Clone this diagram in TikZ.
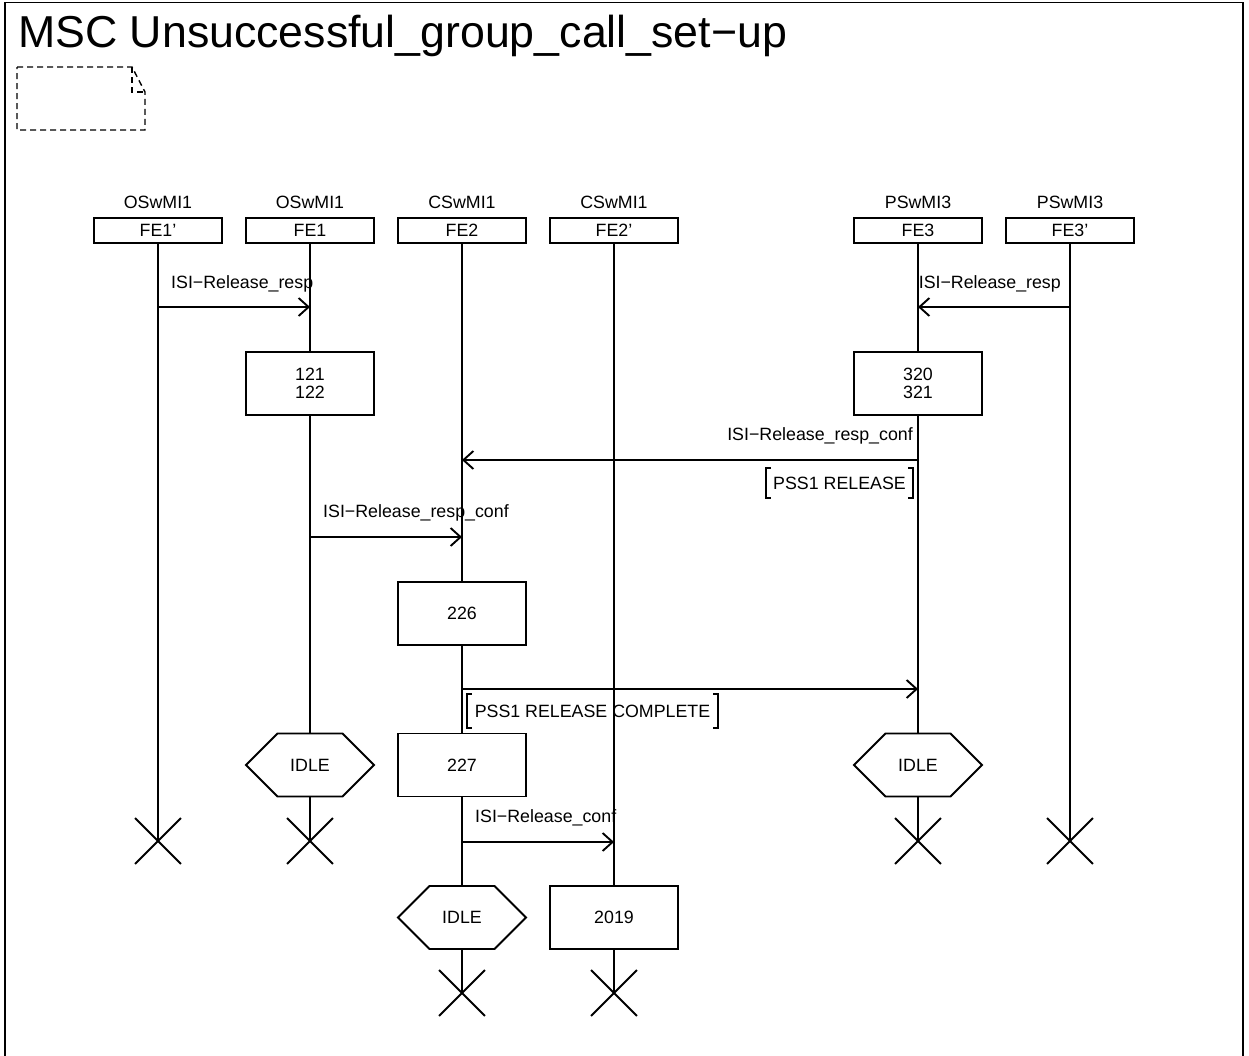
\documentclass[tikz,border=0pt]{standalone}
\usepackage{fontspec}
\setmainfont{Liberation Sans}
\usetikzlibrary{arrows.meta,shapes.misc,shapes.symbols,backgrounds}
\begin{document}
\begin{tikzpicture}[x=1pt,y=-1pt,
  every node/.style={font=\fontsize{17.8}{18}\selectfont},
  lw/.style={line width=1.9pt},
  hdr/.style={draw, lw, fill=white, minimum width=128pt, minimum height=25pt, inner sep=0pt},
  inst/.style={inner sep=0pt, anchor=base},
  actbox/.style={draw, lw, fill=white, minimum width=128pt, minimum height=63pt, inner sep=0pt, align=center},
  statebox/.style={draw, lw, fill=white, signal, signal to=west and east, signal pointer angle=90, minimum width=128pt, minimum height=63pt, inner sep=0pt},
  stopx/.style={cross out, draw, lw, minimum size=44pt, inner sep=0pt},
  msg/.style={lw, -{Straight Barb[length=10pt,width=18pt]}},
  mlbl/.style={inner sep=0pt},
  brk/.style={inner ysep=0pt}
]
\useasboundingbox (0,0) rectangle (1249,1055);
% frame
\draw[line width=1.6pt] (5,1070) -- (5,2.5) -- (1243,2.5) -- (1243,1070);
\node[inner sep=0pt, anchor=base west, font=\fontsize{44.7}{48}\selectfont] (title) at (18,47) {MSC Unsuccessful\_group\_call\_set−up};
% dashed note
\draw[line width=1.4pt, dash pattern=on 6pt off 4pt] (17,67) -- (132,67) -- (145,92) -- (145,130) -- (17,130) -- cycle;
\draw[line width=1.4pt, dash pattern=on 6pt off 4pt] (132,67) -- (132,92) -- (145,92);

% instance heads
\node[inst] (n1) at (158,208) {OSwMI1};
\node[inst] (n2) at (310,208) {OSwMI1};
\node[inst] (n3) at (462,208) {CSwMI1};
\node[inst] (n4) at (614,208) {CSwMI1};
\node[inst] (n5) at (918,208) {PSwMI3};
\node[inst] (n6) at (1070,208) {PSwMI3};
\node[hdr] (h1) at (158,230.5) {FE1'};
\node[hdr] (h2) at (310,230.5) {FE1};
\node[hdr] (h3) at (462,230.5) {FE2};
\node[hdr] (h4) at (614,230.5) {FE2'};
\node[hdr] (h5) at (918,230.5) {FE3};
\node[hdr] (h6) at (1070,230.5) {FE3'};

% actions and states
\node[actbox] (b121) at (310,383.5) {121\\122};
\node[actbox] (b320) at (918,383.5) {320\\321};
\node[actbox] (b226) at (462,613.5) {226};
\node[statebox] (s1) at (310,765) {IDLE};
\node[actbox] (b227) at (462,765) {227};
\node[statebox] (s3) at (918,765) {IDLE};
\node[statebox] (s2) at (462,917.5) {IDLE};
\node[actbox] (b2019) at (614,917.5) {2019};

% stops
\node[stopx] (x1) at (158,841) {};
\node[stopx] (x2) at (310,841) {};
\node[stopx] (x5) at (918,841) {};
\node[stopx] (x6) at (1070,841) {};
\node[stopx] (x3) at (462,993) {};
\node[stopx] (x4) at (614,993) {};

% lifelines
\begin{scope}[on background layer]
\draw[lw] (h1.south) -- (x1.center);
\draw[lw] (h2.south) -- (x2.center);
\draw[lw] (h3.south) -- (x3.center);
\draw[lw] (h4.south) -- (x4.center);
\draw[lw] (h5.south) -- (x5.center);
\draw[lw] (h6.south) -- (x6.center);
\end{scope}

% message points
\coordinate (m1a) at (158,307);
\coordinate (m1b) at (310,307);
\coordinate (m2a) at (1070,307);
\coordinate (m2b) at (918,307);
\coordinate (m3a) at (918,460);
\coordinate (m3b) at (462,460);
\coordinate (m4a) at (310,537);
\coordinate (m4b) at (462,537);
\coordinate (m5a) at (462,689);
\coordinate (m5b) at (918,689);
\coordinate (m6a) at (462,842);
\coordinate (m6b) at (614,842);

\draw[msg] (m1a) -- (m1b);
\draw[msg] (m2a) -- (m2b);
\draw[msg] (m3a) -- (m3b);
\draw[msg] (m4a) -- (m4b);
\draw[msg] (m5a) -- (m5b);
\draw[msg] (m6a) -- (m6b);

\node[mlbl, anchor=base west] (l1) at (171,288) {ISI−Release\_resp};
\node[mlbl, anchor=base east] (l2) at (1061,288) {ISI−Release\_resp};
\node[mlbl, anchor=base east] (l3) at (913,440) {ISI−Release\_resp\_conf};
\node[mlbl, anchor=base west] (l4) at (323,517) {ISI−Release\_resp\_conf};
\node[mlbl, anchor=base west] (l6) at (475,822) {ISI−Release\_conf};

% bracketed parameters
\node[brk, inner xsep=7pt, minimum height=30pt] (p1) at (839.5,483) {PSS1 RELEASE};
\draw[lw] ([xshift=5pt]p1.north west) -- (p1.north west) -- (p1.south west) -- ([xshift=5pt]p1.south west);
\draw[lw] ([xshift=-5pt]p1.north east) -- (p1.north east) -- (p1.south east) -- ([xshift=-5pt]p1.south east);
\node[brk, inner xsep=8pt, minimum height=34pt] (p2) at (592.5,711) {PSS1 RELEASE COMPLETE};
\draw[lw] ([xshift=5pt]p2.north west) -- (p2.north west) -- (p2.south west) -- ([xshift=5pt]p2.south west);
\draw[lw] ([xshift=-5pt]p2.north east) -- (p2.north east) -- (p2.south east) -- ([xshift=-5pt]p2.south east);
\end{tikzpicture}
\end{document}
